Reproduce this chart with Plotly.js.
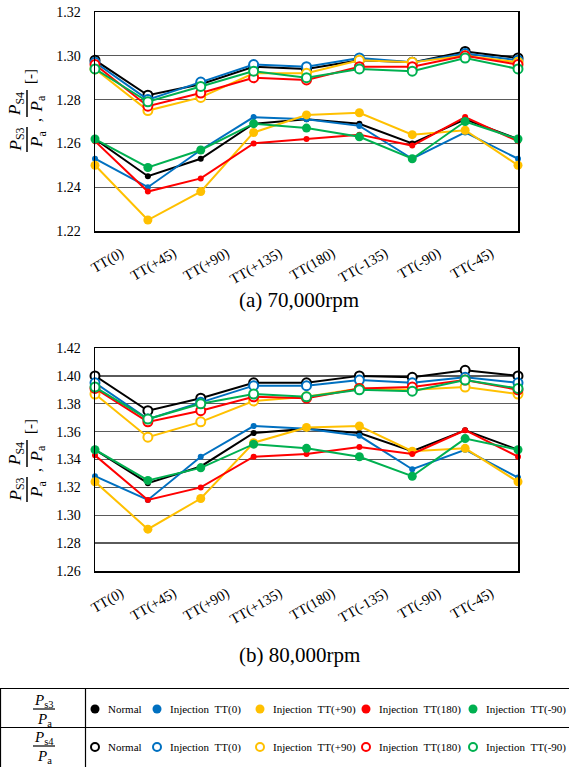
<!DOCTYPE html>
<html>
<head>
<meta charset="utf-8">
<script src="https://cdn.plot.ly/plotly-3.0.1.min.js"></script>
<style>
  html, body { margin: 0; padding: 0; background: #fff; }
  #chart { width: 569px; height: 767px; }
</style>
</head>
<body>
<div id="chart"></div>
<script>
// Measurement stations around the turbine; the last point closes the loop at TT(0)
const stations = ['TT(0)', 'TT(+45)', 'TT(+90)', 'TT(+135)', 'TT(180)', 'TT(-135)', 'TT(-90)', 'TT(-45)', 'TT(0)'];
const tickLabels = stations.slice(0, 8);

const seriesNames = ['Normal', 'Injection\u00a0\u00a0TT(0)', 'Injection\u00a0\u00a0TT(+90)',
                     'Injection\u00a0\u00a0TT(180)', 'Injection\u00a0\u00a0TT(-90)'];

// 70,000 rpm : Ps3/Pa
const ps3_70k_normal = [1.262, 1.245, 1.253, 1.269, 1.271, 1.269, 1.260, 1.271, 1.262];
const ps3_70k_inj0   = [1.253, 1.240, 1.257, 1.272, 1.271, 1.268, 1.253, 1.265, 1.253];
const ps3_70k_inj90  = [1.250, 1.225, 1.238, 1.265, 1.273, 1.274, 1.264, 1.266, 1.250];
const ps3_70k_inj180 = [1.261, 1.238, 1.244, 1.260, 1.262, 1.264, 1.259, 1.272, 1.261];
const ps3_70k_injm90 = [1.262, 1.249, 1.257, 1.269, 1.267, 1.263, 1.253, 1.270, 1.262];
// 70,000 rpm : Ps4/Pa
const ps4_70k_normal = [1.298, 1.282, 1.287, 1.295, 1.294, 1.298, 1.297, 1.302, 1.299];
const ps4_70k_inj0   = [1.297, 1.280, 1.288, 1.296, 1.295, 1.299, 1.297, 1.301, 1.298];
const ps4_70k_inj90  = [1.294, 1.275, 1.281, 1.292, 1.292, 1.298, 1.297, 1.300, 1.297];
const ps4_70k_inj180 = [1.296, 1.277, 1.283, 1.290, 1.289, 1.295, 1.295, 1.300, 1.296];
const ps4_70k_injm90 = [1.294, 1.279, 1.286, 1.293, 1.290, 1.294, 1.293, 1.299, 1.294];
// 80,000 rpm : Ps3/Pa
const ps3_80k_normal = [1.347, 1.323, 1.335, 1.359, 1.362, 1.359, 1.346, 1.361, 1.347];
const ps3_80k_inj0   = [1.328, 1.311, 1.342, 1.364, 1.362, 1.357, 1.333, 1.347, 1.327];
const ps3_80k_inj90  = [1.324, 1.290, 1.312, 1.352, 1.363, 1.364, 1.346, 1.348, 1.324];
const ps3_80k_inj180 = [1.343, 1.311, 1.320, 1.342, 1.344, 1.349, 1.344, 1.361, 1.342];
const ps3_80k_injm90 = [1.347, 1.325, 1.334, 1.351, 1.348, 1.342, 1.328, 1.355, 1.347];
// 80,000 rpm : Ps4/Pa
const ps4_80k_normal = [1.400, 1.375, 1.384, 1.395, 1.395, 1.400, 1.399, 1.404, 1.400];
const ps4_80k_inj0   = [1.395, 1.369, 1.381, 1.393, 1.393, 1.397, 1.395, 1.399, 1.395];
const ps4_80k_inj90  = [1.387, 1.356, 1.367, 1.382, 1.385, 1.391, 1.390, 1.392, 1.387];
const ps4_80k_inj180 = [1.391, 1.367, 1.375, 1.385, 1.384, 1.391, 1.392, 1.397, 1.390];
const ps4_80k_injm90 = [1.392, 1.369, 1.380, 1.387, 1.385, 1.390, 1.389, 1.397, 1.391];

// ---- styling ----
const colors = ['#000000', '#0070C0', '#FFC000', '#FF0000', '#00B050'];
const filledSizes = [6, 6, 9, 6, 9];
const FONT = 'Liberation Serif, Times New Roman, Times, serif';

const xIdx = stations.map((_, i) => i);

const groups = [
  { xa: 'x',  ya: 'y',  ps3: [ps3_70k_normal, ps3_70k_inj0, ps3_70k_inj90, ps3_70k_inj180, ps3_70k_injm90],
                        ps4: [ps4_70k_normal, ps4_70k_inj0, ps4_70k_inj90, ps4_70k_inj180, ps4_70k_injm90] },
  { xa: 'x2', ya: 'y2', ps3: [ps3_80k_normal, ps3_80k_inj0, ps3_80k_inj90, ps3_80k_inj180, ps3_80k_injm90],
                        ps4: [ps4_80k_normal, ps4_80k_inj0, ps4_80k_inj90, ps4_80k_inj180, ps4_80k_injm90] }
];

const traces = [];
groups.forEach(g => {
  g.ps3.forEach((vals, i) => {
    traces.push({
      x: xIdx, y: vals, xaxis: g.xa, yaxis: g.ya, type: 'scatter', mode: 'lines+markers',
      name: seriesNames[i], showlegend: false, cliponaxis: false,
      line: { color: colors[i], width: 2 },
      marker: { color: colors[i], size: filledSizes[i], symbol: 'circle' }
    });
  });
  g.ps4.forEach((vals, i) => {
    traces.push({
      x: xIdx, y: vals, xaxis: g.xa, yaxis: g.ya, type: 'scatter', mode: 'lines+markers',
      name: seriesNames[i], showlegend: false, cliponaxis: false,
      line: { color: colors[i], width: 2 },
      marker: { color: '#ffffff', size: 9, symbol: 'circle', line: { color: colors[i], width: 2 } }
    });
  });
});

// ---- pixel helpers for paper-referenced decorations ----
const PL = 95, PR = 518, PT = 12, PB = 571;
const px = x => (x - PL) / (PR - PL);
const py = y => (PB - y) / (PB - PT);

const annotations = [];
const shapes = [];
function ann(text, x, y, size, extra) {
  annotations.push(Object.assign({
    text: text, x: px(x), y: py(y), xref: 'paper', yref: 'paper',
    xanchor: 'center', yanchor: 'middle', showarrow: false,
    font: { family: FONT, size: size, color: '#000' }
  }, extra || {}));
}
function seg(x0, y0, x1, y1, w) {
  shapes.push({ type: 'line', xref: 'paper', yref: 'paper',
    x0: px(x0), y0: py(y0), x1: px(x1), y1: py(y1),
    line: { color: '#000', width: w || 1.3 } });
}
function dot(cx, cy, r, fill, stroke, sw) {
  shapes.push({ type: 'circle', xref: 'paper', yref: 'paper',
    xsizemode: 'pixel', ysizemode: 'pixel', xanchor: px(cx), yanchor: py(cy),
    x0: -r, x1: r, y0: -r, y1: r,
    fillcolor: fill, line: { color: stroke, width: sw } });
}

// rotated y-axis title: Ps3/Pa , Ps4/Pa [-]
function yTitle(dy) {
  const rot = { textangle: -90 };
  ann('<i>P</i><sub>S3</sub>', 16, 139.5 + dy, 17, rot);
  seg(27, 127 + dy, 27, 152 + dy, 1.5);
  ann('<i>P</i><sub>a</sub>', 37.5, 139.5 + dy, 17, rot);
  ann(',', 35, 120 + dy, 16, rot);
  ann('<i>P</i><sub>S4</sub>', 16, 104 + dy, 17, rot);
  seg(27, 90 + dy, 27, 117 + dy, 1.5);
  ann('<i>P</i><sub>a</sub>', 37.5, 104 + dy, 17, rot);
  ann('[-]', 30, 77 + dy, 15, rot);
}
yTitle(0);
yTitle(350);

// panel captions
ann('(a) 70,000rpm', 299, 300, 21);
ann('(b) 80,000rpm', 299, 655, 21);

// key table: frame, row headers, symbols and series names
seg(0, 688.5, 569, 688.5, 1.2);
seg(0, 727.5, 569, 727.5, 1.2);
seg(0.5, 688, 0.5, 767, 1.2);
seg(85.5, 688, 85.5, 767, 1.2);
ann('<i>P</i><sub>s3</sub>', 44, 701, 15);
seg(33, 709, 55, 709, 1.2);
ann('<i>P</i><sub>a</sub>', 44, 720, 15);
ann('<i>P</i><sub>s4</sub>', 44, 738, 15);
seg(33, 746, 55, 746, 1.2);
ann('<i>P</i><sub>a</sub>', 44, 757, 15);

const keySymbolX = [95, 157, 260, 366, 473];
const keyRows = [709, 747];
keyRows.forEach((rowY, r) => {
  seriesNames.forEach((nm, i) => {
    if (r === 0) dot(keySymbolX[i], rowY, 4.5, colors[i], colors[i], 0);
    else dot(keySymbolX[i], rowY, 4, '#ffffff', colors[i], 2);
    ann(nm, keySymbolX[i] + 11, rowY, 11, { xanchor: 'left' });
  });
});

function xAxis(anchor) {
  return {
    anchor: anchor, domain: [0, 1], range: [0, 8],
    tickmode: 'array', tickvals: tickLabels.map((_, i) => i), ticktext: tickLabels,
    tickangle: -30, ticklabelshift: 26, ticklabelstandoff: 7,
    showgrid: false, zeroline: false, ticks: '',
    showline: true, mirror: true, linecolor: '#000', linewidth: 1.5,
    tickfont: { family: FONT, size: 14.5, color: '#000' }
  };
}
function yAxis(anchor, domain, range) {
  return {
    anchor: anchor, domain: domain, range: range, dtick: 0.02, tick0: range[0],
    tickformat: '.2f', ticks: '', ticklabelstandoff: 10,
    showgrid: true, gridcolor: '#5a5a5a', gridwidth: 1.3, zeroline: false,
    showline: true, mirror: true, linecolor: '#000', linewidth: 1.5,
    tickfont: { family: FONT, size: 14, color: '#000' }
  };
}

const layout = {
  width: 569, height: 767,
  margin: { l: PL, r: 569 - PR, t: PT, b: 767 - PB, autoexpand: false },
  paper_bgcolor: '#fff', plot_bgcolor: '#fff',
  font: { family: FONT, color: '#000' },
  showlegend: false,
  xaxis: xAxis('y'),
  yaxis: yAxis('x', [py(231), 1], [1.22, 1.32]),
  xaxis2: xAxis('y2'),
  yaxis2: yAxis('x2', [0, py(348)], [1.26, 1.42]),
  annotations: annotations,
  shapes: shapes
};

Plotly.newPlot('chart', traces, layout, { displayModeBar: false, staticPlot: true });
</script>
</body>
</html>
